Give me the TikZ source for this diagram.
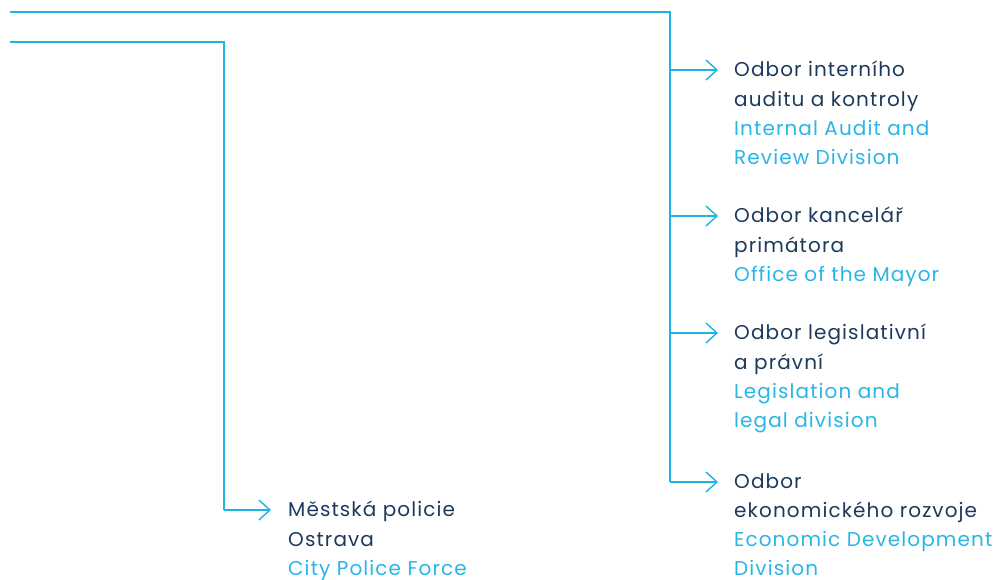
\documentclass[tikz,border=0pt]{standalone}
\usepackage{fontspec}
\setmainfont[LetterSpace=5.5]{Poppins}
\usetikzlibrary{arrows.meta}
\definecolor{navy}{HTML}{1D3A5C}
\definecolor{cyanT}{HTML}{29B5E6}
\definecolor{lineC}{HTML}{1DB4E3}
\tikzset{
  conn/.style={draw=lineC, line width=1.4pt},
  arr/.style={conn, -{Straight Barb[length=11pt,width=20pt,line width=1.4pt]}},
  lbl/.style={anchor=north west, inner sep=0pt, align=left,
    font=\fontsize{20}{29.3}\selectfont, text=navy},
}
\newcommand{\en}[1]{\textcolor{cyanT}{#1}}
\begin{document}
\begin{tikzpicture}[x=1pt,y=-1pt]
\useasboundingbox (0,0) rectangle (1001,579);
% trunk coordinates
\coordinate (s1) at (10,12);
\coordinate (k1) at (670,12);
\coordinate (b1) at (670,70);
\coordinate (b2) at (670,216);
\coordinate (b3) at (670,333);
\coordinate (b4) at (670,482);
\coordinate (s2) at (10,42);
\coordinate (k2) at (224,42);
\coordinate (b5) at (224,510);
% arrow tips
\coordinate (t1) at (718,70);
\coordinate (t2) at (718,216);
\coordinate (t3) at (718,333);
\coordinate (t4) at (718,482);
\coordinate (t5) at (271,510);
% labels
\node[lbl] (n1) at (734,61) {Odbor interního\\auditu a kontroly\\\en{Internal Audit and}\\\en{Review Division}};
\node[lbl] (n2) at (734,207) {Odbor kancelář\\primátora\\\en{Office of the Mayor}};
\node[lbl] (n3) at (734,324) {Odbor legislativní\\a právní\\\en{Legislation and}\\\en{legal division}};
\node[lbl] (n4) at (734,473) {Odbor\\ekonomického rozvoje\\\en{Economic Development}\\\en{Division}};
\node[lbl] (n5) at (288,501) {Městská policie\\Ostrava\\\en{City Police Force}};
% connectors
\draw[conn] (s1) -- (k1) -- (b4);
\draw[conn] (s2) -- (k2) -- (b5);
\draw[arr] (b1) -- (t1);
\draw[arr] (b2) -- (t2);
\draw[arr] (b3) -- (t3);
\draw[arr] (b4) -- (t4);
\draw[arr] (b5) -- (t5);
\end{tikzpicture}
\end{document}
